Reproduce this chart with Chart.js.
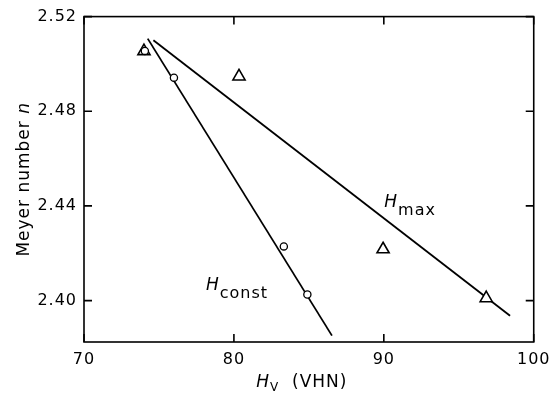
<!DOCTYPE html>
<html>
<head>
<meta charset="utf-8">
<script src="https://cdn.jsdelivr.net/npm/chart.js@4.4.1/dist/chart.umd.min.js"></script>
<style>
  html, body { margin: 0; padding: 0; background: #fff; }
  canvas { display: block; }
</style>
</head>
<body>
<canvas id="chart" width="557" height="397"></canvas>
<script>
// Meyer number n against Vickers hardness H_V (VHN)
const xTicks = [70, 80, 90, 100];
const yTicks = [2.40, 2.44, 2.48, 2.52];

// measured points, H_max series (triangles)
const hmaxX = [74.0, 80.34, 89.95, 96.83];
const hmaxN = [2.5054, 2.4947, 2.4217, 2.4010];

// measured points, H_const series (circles)
const hconstX = [74.06, 76.0, 83.33, 84.9];
const hconstN = [2.5055, 2.4942, 2.4229, 2.4026];

// fitted straight lines (end points)
const hconstFitX = [74.25, 86.54];
const hconstFitN = [2.5107, 2.3852];
const hmaxFitX = [74.63, 98.42];
const hmaxFitN = [2.5100, 2.3936];

// curve labels, anchored in data coordinates
const curveLabelSub = ['const', 'max'];
const curveLabelX = [78.13, 90.03];
const curveLabelN = [2.4044, 2.4394];

const FONT = '"DejaVu Sans", sans-serif';
const toPoints = (xs, ys) => xs.map((v, i) => ({ x: v, y: ys[i] }));

// draws a sequence of differently styled text pieces starting at (x, y)
function drawRuns(ctx, runs, x, y) {
  let cx = x;
  runs.forEach(r => {
    ctx.font = r.font;
    ctx.fillText(r.text, cx, y + (r.dy || 0));
    cx += ctx.measureText(r.text).width;
  });
  return cx - x;
}
function runsWidth(ctx, runs) {
  let w = 0;
  runs.forEach(r => { ctx.font = r.font; w += ctx.measureText(r.text).width; });
  return w;
}

const framePlugin = {
  id: 'frameAndLabels',
  beforeDraw(chart) {
    chart.ctx.letterSpacing = '1px';
  },
  afterDraw(chart) {
    const { ctx, chartArea: a, scales: { x, y } } = chart;
    ctx.save();
    ctx.letterSpacing = '1px';
    ctx.strokeStyle = '#000';
    ctx.fillStyle = '#000';
    ctx.lineWidth = 1.6;
    ctx.strokeRect(a.left, a.top, a.right - a.left, a.bottom - a.top);

    // inward tick marks on all four sides
    const tl = 8;
    ctx.beginPath();
    xTicks.forEach(v => {
      const px = x.getPixelForValue(v);
      ctx.moveTo(px, a.bottom); ctx.lineTo(px, a.bottom - tl);
      ctx.moveTo(px, a.top); ctx.lineTo(px, a.top + tl);
    });
    yTicks.forEach(v => {
      const py = y.getPixelForValue(v);
      ctx.moveTo(a.left, py); ctx.lineTo(a.left + tl, py);
      ctx.moveTo(a.right, py); ctx.lineTo(a.right - tl, py);
    });
    ctx.stroke();

    ctx.textBaseline = 'alphabetic';
    ctx.textAlign = 'left';

    // y axis title
    const yRuns = [
      { text: 'Meyer number ', font: '17px ' + FONT },
      { text: 'n', font: 'italic 17px ' + FONT }
    ];
    ctx.save();
    ctx.translate(29, (a.top + a.bottom) / 2);
    ctx.rotate(-Math.PI / 2);
    drawRuns(ctx, yRuns, -runsWidth(ctx, yRuns) / 2, 0);
    ctx.restore();

    // x axis title
    const xRuns = [
      { text: 'H', font: 'italic 17px ' + FONT },
      { text: 'V', font: '12px ' + FONT, dy: 4 },
      { text: '  (VHN)', font: '17px ' + FONT }
    ];
    drawRuns(ctx, xRuns, (a.left + a.right) / 2 - 7 - runsWidth(ctx, xRuns) / 2, 387);

    // curve labels
    curveLabelSub.forEach((sub, i) => {
      const px = x.getPixelForValue(curveLabelX[i]);
      const py = y.getPixelForValue(curveLabelN[i]);
      drawRuns(ctx, [
        { text: 'H', font: 'italic 17px ' + FONT },
        { text: sub, font: '16px ' + FONT, dy: 8 }
      ], px, py);
    });
    ctx.restore();
  }
};

new Chart(document.getElementById('chart'), {
  type: 'scatter',
  data: {
    datasets: [
      {
        label: 'H_const data',
        data: toPoints(hconstX, hconstN),
        pointStyle: 'circle',
        pointRadius: 3.6,
        borderWidth: 1.3,
        borderColor: '#000',
        backgroundColor: '#fff',
        showLine: false
      },
      {
        label: 'H_max data',
        data: toPoints(hmaxX, hmaxN),
        pointStyle: 'triangle',
        pointRadius: 7,
        borderWidth: 1.6,
        borderColor: '#000',
        backgroundColor: '#fff',
        showLine: false
      },
      {
        label: 'H_const',
        data: toPoints(hconstFitX, hconstFitN),
        showLine: true,
        pointRadius: 0,
        borderColor: '#000',
        borderWidth: 1.8,
        fill: false
      },
      {
        label: 'H_max',
        data: toPoints(hmaxFitX, hmaxFitN),
        showLine: true,
        pointRadius: 0,
        borderColor: '#000',
        borderWidth: 1.8,
        fill: false
      }
    ]
  },
  options: {
    responsive: false,
    devicePixelRatio: 1,
    animation: false,
    layout: { padding: { left: 0, top: 15, right: 19, bottom: 0 } },
    plugins: { legend: { display: false }, tooltip: { enabled: false } },
    scales: {
      x: {
        type: 'linear',
        min: 70,
        max: 100,
        afterBuildTicks: s => { s.ticks = xTicks.map(v => ({ value: v })); },
        afterFit: s => { s.height = 55; },
        grid: { display: false, drawTicks: false },
        border: { display: false },
        ticks: {
          color: '#000',
          font: { family: FONT, size: 16 },
          padding: 8,
          maxRotation: 0,
          callback: v => String(v)
        }
      },
      y: {
        type: 'linear',
        min: 2.3825,
        max: 2.52,
        afterBuildTicks: s => { s.ticks = yTicks.map(v => ({ value: v })); },
        afterFit: s => { s.width = 84; },
        grid: { display: false, drawTicks: false },
        border: { display: false },
        ticks: {
          color: '#000',
          font: { family: FONT, size: 16 },
          padding: 7,
          callback: v => v.toFixed(2)
        }
      }
    }
  },
  plugins: [framePlugin]
});
</script>
</body>
</html>
